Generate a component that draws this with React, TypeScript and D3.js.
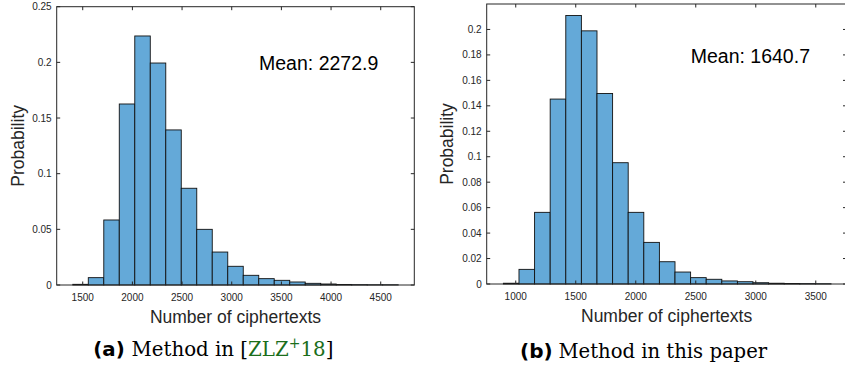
import React from "react";
import * as d3 from "d3";

// ---------- data ----------
const leftProb = [
  0.0006, 0.0066, 0.0584, 0.1626, 0.2237, 0.1994, 0.1393, 0.0869, 0.05, 0.0296,
  0.0168, 0.0087, 0.0057, 0.0042, 0.0027, 0.0015, 0.0009, 0.0005, 0.0003, 0.0002, 0.0002,
];
const leftBinStart = 1400;
const leftBinWidth = 156;
const leftXTicks = [1500, 2000, 2500, 3000, 3500, 4000, 4500];
const leftYTicks = [0, 0.05, 0.1, 0.15, 0.2, 0.25];
const leftMean = "Mean: 2272.9";

const rightProb = [
  0.0006, 0.0115, 0.0563, 0.1453, 0.211, 0.1989, 0.1497, 0.0953, 0.0563, 0.0327,
  0.0175, 0.0094, 0.005, 0.0037, 0.0024, 0.0018, 0.001, 0.0006, 0.0004, 0.0003, 0.0002,
];
const rightBinStart = 897;
const rightBinWidth = 130;
const rightXTicks = [1000, 1500, 2000, 2500, 3000, 3500];
const rightYTicks = [0, 0.02, 0.04, 0.06, 0.08, 0.1, 0.12, 0.14, 0.16, 0.18, 0.2];
const rightMean = "Mean: 1640.7";

const xLabel = "Number of ciphertexts";
const yLabel = "Probability";

const AX = "#262626";
const SANS = "'Liberation Sans', Arial, Helvetica, sans-serif";

type PanelProps = {
  probs: number[];
  binStart: number;
  binWidth: number;
  xTicks: number[];
  yTicks: number[];
  xDomain: [number, number];
  yDomain: [number, number];
  x0: number;
  x1: number;
  y0: number;
  y1: number;
  mean: string;
  meanX: number;
  meanY: number;
  yLabelX: number;
};

const fmt = (v: number) => String(+v.toFixed(3));

function Panel(p: PanelProps) {
  const x = d3.scaleLinear().domain(p.xDomain).range([p.x0, p.x1]);
  const y = d3.scaleLinear().domain(p.yDomain).range([p.y1, p.y0]);
  const tl = 3.5;
  return (
    <g>
      {p.probs.map((v, i) => {
        const a = x(p.binStart + i * p.binWidth);
        const b = x(p.binStart + (i + 1) * p.binWidth);
        return (
          <rect
            key={i}
            x={a}
            y={y(v)}
            width={b - a}
            height={y(0) - y(v)}
            fill="#64A9D8"
            stroke="#111"
            strokeWidth={0.9}
          />
        );
      })}
      {/* box */}
      <rect
        x={p.x0}
        y={p.y0}
        width={p.x1 - p.x0}
        height={p.y1 - p.y0}
        fill="none"
        stroke={AX}
        strokeWidth={1}
      />
      {p.xTicks.map((t) => (
        <g key={"x" + t}>
          <line x1={x(t)} x2={x(t)} y1={p.y1} y2={p.y1 - tl} stroke={AX} />
          <line x1={x(t)} x2={x(t)} y1={p.y0} y2={p.y0 + tl} stroke={AX} />
          <text
            x={x(t)}
            y={p.y1 + 16}
            textAnchor="middle"
            fontSize={10}
            fill={AX}
            fontFamily={SANS}
          >
            {t}
          </text>
        </g>
      ))}
      {p.yTicks.map((t) => (
        <g key={"y" + t}>
          <line x1={p.x0} x2={p.x0 + tl} y1={y(t)} y2={y(t)} stroke={AX} />
          <line x1={p.x1} x2={p.x1 - tl} y1={y(t)} y2={y(t)} stroke={AX} />
          <text
            x={p.x0 - 5}
            y={y(t)}
            dy="0.35em"
            textAnchor="end"
            fontSize={10}
            fill={AX}
            fontFamily={SANS}
          >
            {fmt(t)}
          </text>
        </g>
      ))}
      <text
        x={(p.x0 + p.x1) / 2}
        y={p.y1 + 37.7}
        textAnchor="middle"
        fontSize={17.5}
        fill={AX}
        fontFamily={SANS}
      >
        {xLabel}
      </text>
      <text
        transform={`translate(${p.yLabelX},${(p.y0 + p.y1) / 2}) rotate(-90)`}
        textAnchor="middle"
        fontSize={17.5}
        fill={AX}
        fontFamily={SANS}
      >
        {yLabel}
      </text>
      <text
        x={x(p.meanX)}
        y={y(p.meanY)}
        dy="0.36em"
        fontSize={19.5}
        fill="#000"
        fontFamily={SANS}
      >
        {p.mean}
      </text>
    </g>
  );
}

const SERIF = "'DejaVu Serif', serif";
const GREEN = "#1b6e1b";

export default function App() {
  return (
    <svg
      width={845}
      height={367}
      style={{ position: "absolute", left: 0, top: 0, background: "#fff" }}
    >
      <rect width={845} height={367} fill="#fff" />
      <Panel
        probs={leftProb}
        binStart={leftBinStart}
        binWidth={leftBinWidth}
        xTicks={leftXTicks}
        yTicks={leftYTicks}
        xDomain={[1238, 4838]}
        yDomain={[0, 0.25]}
        x0={56.7}
        x1={414.3}
        y0={6.7}
        y1={285}
        mean={leftMean}
        meanX={3275}
        meanY={0.199}
        yLabelX={24.3}
      />
      <Panel
        probs={rightProb}
        binStart={rightBinStart}
        binWidth={rightBinWidth}
        xTicks={rightXTicks}
        yTicks={rightYTicks}
        xDomain={[758, 3756]}
        yDomain={[0, 0.22]}
        x0={486.7}
        x1={846.5}
        y0={4}
        y1={284}
        mean={rightMean}
        meanX={2458}
        meanY={0.1793}
        yLabelX={452.6}
      />
      {/* captions */}
      <text x={93.3} y={355.5} fontSize={19.8} fontFamily={SERIF} fill="#000">
        <tspan fontFamily="'DejaVu Sans', sans-serif" fontWeight="bold">
          (a)
        </tspan>
        <tspan x={131.5}>Method in [</tspan>
        <tspan fill={GREEN}>ZLZ</tspan>
        <tspan fill={GREEN} fontSize={14} dy={-8}>
          +
        </tspan>
        <tspan fill={GREEN} dy={8}>
          18
        </tspan>
        <tspan>]</tspan>
      </text>
      <text x={520} y={357.5} fontSize={19.6} fontFamily={SERIF} fill="#000">
        <tspan fontFamily="'DejaVu Sans', sans-serif" fontWeight="bold" fontSize={20}>
          (b)
        </tspan>
        <tspan x={558.5}>Method in this paper</tspan>
      </text>
    </svg>
  );
}
